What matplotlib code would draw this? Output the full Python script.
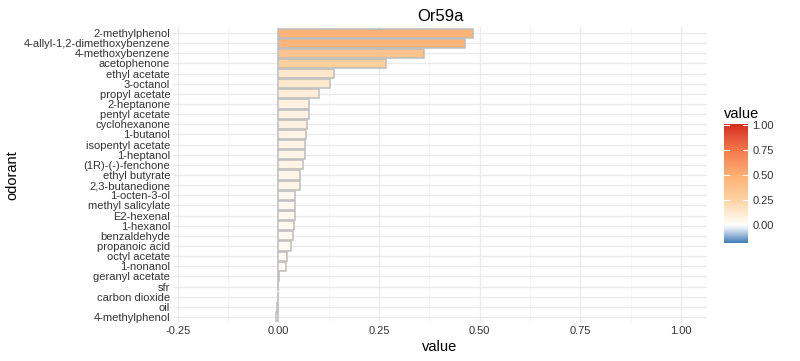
import numpy as np
import matplotlib
matplotlib.use('Agg')
import matplotlib.pyplot as plt
from matplotlib.colors import LinearSegmentedColormap, Normalize
from matplotlib.colorbar import ColorbarBase

plt.rcParams['font.family'] = ['Liberation Sans', 'DejaVu Sans']

# Data (top to bottom)
odorants = ['2-methylphenol', '4-allyl-1,2-dimethoxybenzene', '4-methoxybenzene',
            'acetophenone', 'ethyl acetate', '3-octanol', 'propyl acetate',
            '2-heptanone', 'pentyl acetate', 'cyclohexanone', '1-butanol',
            'isopentyl acetate', '1-heptanol', '(1R)-(-)-fenchone', 'ethyl butyrate',
            '2,3-butanedione', '1-octen-3-ol', 'methyl salicylate', 'E2-hexenal',
            '1-hexanol', 'benzaldehyde', 'propanoic acid', 'octyl acetate',
            '1-nonanol', 'geranyl acetate', 'sfr', 'carbon dioxide', 'oil',
            '4-methylphenol']
values = [0.484, 0.463, 0.361, 0.268, 0.139, 0.127, 0.100, 0.077, 0.075, 0.072,
          0.069, 0.066, 0.065, 0.062, 0.054, 0.053, 0.040, 0.040, 0.040, 0.038,
          0.037, 0.031, 0.022, 0.020, 0.001, 0.000, -0.002, -0.003, -0.007]
x_ticks = [-0.25, 0.0, 0.25, 0.5, 0.75, 1.0]
cbar_ticks = [0.0, 0.25, 0.5, 0.75, 1.0]

vmin, vmax = -0.18, 1.01
nodes = [(-0.18, '#3f7db8'), (-0.06, '#c9d9ea'), (0.0, '#ffffff'), (0.05, '#fff6ea'),
         (0.27, '#fdd09d'), (0.49, '#fdb175'), (0.75, '#f3784c'), (1.01, '#d42e20')]
cmap = LinearSegmentedColormap.from_list(
    'rdbu', [((v - vmin) / (vmax - vmin), c) for v, c in nodes])
norm = Normalize(vmin, vmax)

fig = plt.figure(figsize=(8, 3.61), dpi=100)
ax = fig.add_axes([173 / 800, 38 / 361, 534 / 800, 296 / 361])

grid = '#ebebeb'
ypos = np.arange(len(odorants))
ax.barh(ypos, values, height=0.9, color=cmap(norm(values)),
        edgecolor='#bdbdbd', linewidth=1.1, zorder=3)

ax.set_xlim(-0.262, 1.065)
ax.set_ylim(len(odorants) - 0.4, -0.6)
ax.set_xticks(x_ticks)
ax.set_xticklabels(['%.2f' % t for t in x_ticks])
ax.set_xticks([-0.125, 0.125, 0.375, 0.625, 0.875], minor=True)
ax.set_yticks(ypos)
ax.set_yticklabels(odorants)
ax.grid(True, which='major', color=grid, linewidth=1.0, zorder=0)
ax.grid(True, which='minor', axis='x', color='#f4f4f4', linewidth=0.6, zorder=0)
ax.tick_params(length=0, labelsize=8, colors='#333333', pad=2)
ax.tick_params(which='minor', length=0)
for s in ax.spines.values():
    s.set_visible(False)

ax.set_title('Or59a', fontsize=12, pad=4)
ax.set_xlabel('value', fontsize=10.5, labelpad=3)
ax.set_ylabel('odorant', fontsize=10.5, labelpad=3)

cax = fig.add_axes([724 / 800, 118 / 361, 24 / 800, 119 / 361])
cb = ColorbarBase(cax, cmap=cmap, norm=norm, ticks=cbar_ticks)
cb.outline.set_visible(False)
cax.tick_params(length=0, labelsize=8, colors='#333333', pad=3)
cax.set_yticklabels(['%.2f' % t for t in cbar_ticks])
for t in cbar_ticks:
    cax.plot([0, 0.2], [t, t], color='white', lw=0.8)
    cax.plot([0.8, 1], [t, t], color='white', lw=0.8)
cax.set_xlim(0, 1)
cax.set_title('value', fontsize=10.5, loc='left', pad=4)

plt.savefig('out.png', dpi=100)
